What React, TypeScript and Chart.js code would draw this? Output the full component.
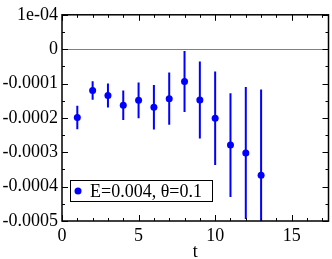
import React, { useEffect, useRef } from "react";
import { Chart, registerables } from "chart.js";
Chart.register(...registerables);

const tValues = [1, 2, 3, 4, 5, 6, 7, 8, 9, 10, 11, 12, 13];
const meanValues = [-0.000199, -0.00012, -0.000135, -0.000163, -0.000149, -0.000169, -0.000144, -0.000094, -0.000148, -0.000201, -0.000279, -0.000302, -0.000367];
const errValues = [0.000034, 0.000027, 0.000035, 0.000043, 0.000052, 0.000065, 0.000076, 0.000089, 0.000112, 0.000136, 0.000151, 0.000192, 0.00025];
const seriesLabel = "E=0.004, θ=0.1";
const yTickValues = [0.0001, 0, -0.0001, -0.0002, -0.0003, -0.0004, -0.0005];
const yTickLabels = ["1e-04", "0", "-0.0001", "-0.0002", "-0.0003", "-0.0004", "-0.0005"];
const yMinorValues = [0.00005, -0.00005, -0.00015, -0.00025, -0.00035, -0.00045];
const xTickValues = [0, 5, 10, 15];
const xMinorValues = [1, 2, 3, 4, 6, 7, 8, 9, 11, 12, 13, 14, 16, 17];
const xAxisTitle = "t";

const FONT = "'Liberation Serif', 'Times New Roman', serif";
const BLUE = "#0000ff";

const framePlugin = {
  id: "framePlugin",
  beforeDatasetsDraw(chart: any) {
    const { ctx, chartArea: a, scales } = chart;
    const y0 = scales.y.getPixelForValue(0);
    ctx.save();
    ctx.strokeStyle = "#808080";
    ctx.lineWidth = 1;
    ctx.beginPath();
    ctx.moveTo(a.left, Math.round(y0) + 0.5);
    ctx.lineTo(a.right, Math.round(y0) + 0.5);
    ctx.stroke();
    // error bars
    ctx.beginPath();
    ctx.rect(a.left, a.top, a.right - a.left, a.bottom - a.top);
    ctx.clip();
    ctx.strokeStyle = BLUE;
    ctx.lineWidth = 2;
    tValues.forEach((t, i) => {
      const x = scales.x.getPixelForValue(t);
      const yl = scales.y.getPixelForValue(meanValues[i] - errValues[i]);
      const yh = scales.y.getPixelForValue(meanValues[i] + errValues[i]);
      ctx.beginPath();
      ctx.moveTo(x, yl);
      ctx.lineTo(x, yh);
      ctx.stroke();
    });
    ctx.restore();
  },
  afterDraw(chart: any) {
    const { ctx, chartArea: a, scales } = chart;
    ctx.save();
    ctx.strokeStyle = "#000";
    ctx.lineWidth = 1.5;
    ctx.strokeRect(a.left, a.top, a.right - a.left, a.bottom - a.top);
    ctx.lineWidth = 1;
    const maj = 6, min = 3;
    ctx.beginPath();
    const xt = (v: number, len: number) => {
      const x = Math.round(scales.x.getPixelForValue(v)) + 0.5;
      ctx.moveTo(x, a.bottom);
      ctx.lineTo(x, a.bottom - len);
      ctx.moveTo(x, a.top);
      ctx.lineTo(x, a.top + len);
    };
    const yt = (v: number, len: number) => {
      const y = Math.round(scales.y.getPixelForValue(v)) + 0.5;
      ctx.moveTo(a.left, y);
      ctx.lineTo(a.left + len, y);
      ctx.moveTo(a.right, y);
      ctx.lineTo(a.right - len, y);
    };
    xTickValues.forEach((v) => xt(v, maj));
    xMinorValues.forEach((v) => xt(v, min));
    yTickValues.forEach((v) => yt(v, maj));
    yMinorValues.forEach((v) => yt(v, min));
    ctx.stroke();

    // axis title
    ctx.fillStyle = "#000";
    ctx.font = `18px ${FONT}`;
    ctx.textAlign = "center";
    ctx.textBaseline = "alphabetic";
    ctx.fillText(xAxisTitle, (a.left + a.right) / 2, a.bottom + 36);

    // legend
    const bx = a.left + 8, by = 180;
    ctx.fillStyle = "#fff";
    ctx.fillRect(bx, by, 142, 21);
    ctx.strokeStyle = "#000";
    ctx.lineWidth = 1;
    ctx.strokeRect(bx + 0.5, by + 0.5, 142, 21);
    ctx.fillStyle = BLUE;
    ctx.beginPath();
    ctx.arc(bx + 8, by + 11, 3.5, 0, Math.PI * 2);
    ctx.fill();
    ctx.fillStyle = "#000";
    ctx.textAlign = "left";
    ctx.fillText(chart.data.datasets[0].label, bx + 20, by + 17);
    ctx.restore();
  },
};

export default function App() {
  const ref = useRef<HTMLCanvasElement>(null);
  useEffect(() => {
    document.body.style.margin = "0";
    const chart = new Chart(ref.current!, {
      type: "scatter",
      data: {
        datasets: [
          {
            label: seriesLabel,
            data: tValues.map((t, i) => ({ x: t, y: meanValues[i] })),
            backgroundColor: BLUE,
            borderColor: BLUE,
            pointRadius: 3.5,
            pointHoverRadius: 3.5,
            borderWidth: 0,
          },
        ],
      },
      options: {
        animation: false,
        responsive: false,
        devicePixelRatio: 1,
        layout: { padding: { left: 0, top: 7, right: 2, bottom: 0 } },
        plugins: { legend: { display: false }, tooltip: { enabled: false } },
        scales: {
          x: {
            type: "linear",
            min: 0,
            max: 17.4,
            grid: { display: false, drawTicks: false },
            border: { display: false },
            afterBuildTicks: (s: any) => {
              s.ticks = xTickValues.map((v) => ({ value: v }));
            },
            afterFit: (s: any) => {
              s.height = 38;
            },
            ticks: {
              padding: 4,
              color: "#000",
              font: { family: FONT, size: 18 },
              maxRotation: 0,
              callback: (v: any) => String(v),
            },
          },
          y: {
            type: "linear",
            min: -0.0005,
            max: 0.0001,
            grid: { display: false, drawTicks: false },
            border: { display: false },
            afterBuildTicks: (s: any) => {
              s.ticks = yTickValues.map((v) => ({ value: v }));
            },
            afterFit: (s: any) => {
              s.width = 62;
            },
            ticks: {
              padding: 4,
              color: "#000",
              font: { family: FONT, size: 18 },
              callback: (v: any) => {
                const i = yTickValues.findIndex((t) => Math.abs(t - v) < 1e-9);
                return i >= 0 ? yTickLabels[i] : "";
              },
            },
          },
        },
      },
      plugins: [framePlugin],
    });
    return () => chart.destroy();
  }, []);
  return <canvas ref={ref} width={332} height={259} style={{ display: "block" }} />;
}
